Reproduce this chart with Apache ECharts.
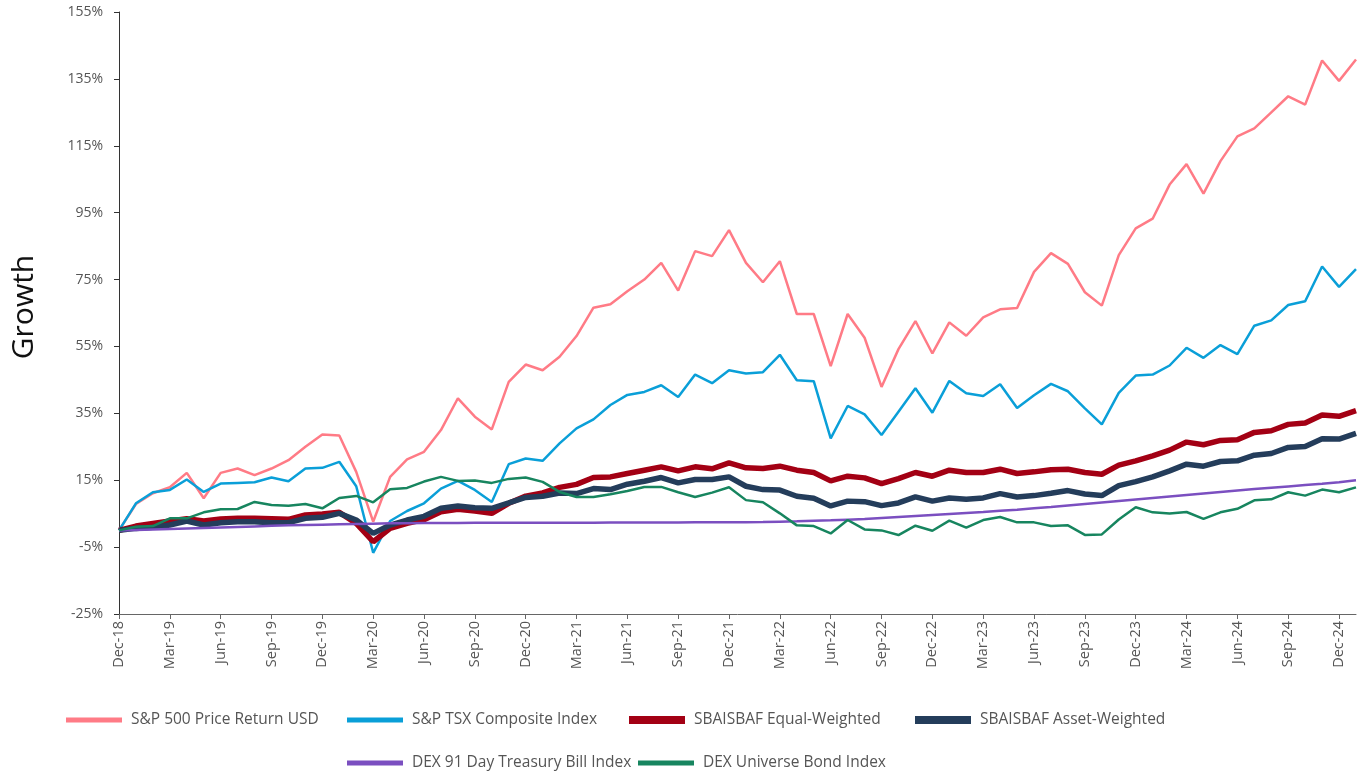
<!DOCTYPE html>
<html>
<head>
<meta charset="utf-8">
<script src="https://cdn.jsdelivr.net/npm/echarts@6/dist/echarts.min.js"></script>
<style>
html,body{margin:0;padding:0;background:#fff;}
#chart{width:1362px;height:775px;}
</style>
</head>
<body>
<div id="chart"></div>
<script>
const categories = ["Dec-18","Jan-19","Feb-19","Mar-19","Apr-19","May-19","Jun-19","Jul-19","Aug-19","Sep-19","Oct-19","Nov-19",
"Dec-19","Jan-20","Feb-20","Mar-20","Apr-20","May-20","Jun-20","Jul-20","Aug-20","Sep-20","Oct-20","Nov-20",
"Dec-20","Jan-21","Feb-21","Mar-21","Apr-21","May-21","Jun-21","Jul-21","Aug-21","Sep-21","Oct-21","Nov-21",
"Dec-21","Jan-22","Feb-22","Mar-22","Apr-22","May-22","Jun-22","Jul-22","Aug-22","Sep-22","Oct-22","Nov-22",
"Dec-22","Jan-23","Feb-23","Mar-23","Apr-23","May-23","Jun-23","Jul-23","Aug-23","Sep-23","Oct-23","Nov-23",
"Dec-23","Jan-24","Feb-24","Mar-24","Apr-24","May-24","Jun-24","Jul-24","Aug-24","Sep-24","Oct-24","Nov-24",
"Dec-24","Jan-25"];

const sp500 = [0,7.9,11.1,12.9,17.2,9.6,17.2,18.5,16.5,18.5,21,25,
28.7,28.4,17.5,2.6,16,21.2,23.5,30,39.5,34,30.2,44.4,
49.6,47.9,51.9,58.1,66.6,67.6,71.5,75,80,71.7,83.5,82,
89.8,80,74.2,80.5,64.7,64.7,49.1,64.7,57.6,42.9,54.2,62.6,
52.9,62.2,58.2,63.7,66.1,66.5,77.3,82.9,79.7,71.2,67.2,82.3,
90.3,93.2,103.4,109.5,100.7,110.4,117.8,120.2,125,129.8,127.3,140.5,
134.4,140.8];

const tsx = [0,8.1,11.4,12.1,15.2,11.5,14,14.2,14.4,15.8,14.7,18.5,
18.7,20.5,13.2,-6.7,2.8,5.8,8.1,12.5,14.8,12.1,8.5,19.8,
21.5,20.8,26,30.5,33.2,37.5,40.5,41.4,43.4,39.9,46.6,44,
47.9,46.9,47.3,52.5,44.9,44.6,27.5,37.2,34.7,28.5,35.5,42.5,
35.2,44.7,41,40.2,43.7,36.6,40.4,43.8,41.6,36.5,31.7,41.1,
46.3,46.6,49.3,54.6,51.6,55.4,52.7,61.2,62.8,67.4,68.5,78.9,
72.8,78.1];

const equalWeighted = [0,1.3,2.1,2.8,3.5,2.8,3.4,3.6,3.6,3.5,3.3,4.6,
4.9,5.4,2.1,-3.4,0.6,2.1,3.2,5.6,6.3,5.8,5.1,8.1,
10.25,11.2,12.85,13.75,15.8,16,17,18,19,17.8,19,18.4,
20.2,18.7,18.5,19.2,18,17.3,14.8,16.2,15.7,14,15.5,17.3,
16.2,18,17.3,17.3,18.3,17,17.5,18.1,18.3,17.3,16.8,19.5,
20.8,22.3,24,26.4,25.6,26.9,27.1,29.3,29.8,31.7,32.1,34.5,
34.1,35.8];

const assetWeighted = [0,0.6,0.9,1.6,2.8,1.6,2.3,2.6,2.6,2.3,2.3,3.6,
3.9,5.1,3.1,-0.9,1.6,3.1,4.2,6.6,7.3,6.8,6.6,8.2,
9.85,10.2,11.2,11,12.5,12.2,13.8,14.7,15.8,14.2,15.2,15.2,
16,13.2,12.2,12.05,10.2,9.6,7.3,8.75,8.6,7.4,8.2,10,
8.75,9.7,9.3,9.7,11,10,10.4,11.1,11.9,10.9,10.4,13.4,
14.6,16,17.8,19.8,19.2,20.6,20.8,22.5,23,24.8,25.1,27.4,
27.3,29];

const tbill = [0,0.15,0.3,0.45,0.6,0.75,0.9,1.05,1.2,1.35,1.5,1.6,
1.7,1.8,1.9,2.0,2.1,2.1,2.2,2.2,2.2,2.25,2.25,2.3,
2.3,2.3,2.3,2.3,2.3,2.35,2.35,2.35,2.35,2.35,2.4,2.4,
2.4,2.45,2.5,2.6,2.7,2.85,3.0,3.2,3.4,3.7,4.0,4.3,
4.6,4.9,5.2,5.5,5.85,6.2,6.6,7.0,7.45,7.9,8.35,8.8,
9.25,9.7,10.15,10.6,11.05,11.5,11.95,12.35,12.75,13.15,13.55,13.95,
14.4,15.0];

const bond = [0,1.1,1.3,3.6,3.6,5.4,6.3,6.4,8.5,7.6,7.4,7.9,
6.6,9.7,10.3,8.4,12.3,12.7,14.6,16,14.8,14.9,14.2,15.4,
15.8,14.5,11.5,10,10,10.8,11.8,13,13,11.4,10,11.3,
12.9,9.05,8.4,5.1,1.5,1.3,-0.9,3.1,0.3,0,-1.4,1.4,
-0.1,2.9,0.8,3.1,4,2.4,2.4,1.3,1.5,-1.35,-1.2,3.25,
6.9,5.4,5.05,5.5,3.46,5.4,6.45,9,9.3,11.4,10.4,12.2,
11.4,12.85];

const yTicks = [-25,-5,15,35,55,75,95,115,135,155];

const seriesNames = ["S&P 500 Price Return USD","S&P TSX Composite Index","SBAISBAF Equal-Weighted",
"SBAISBAF Asset-Weighted","DEX 91 Day Treasury Bill Index","DEX Universe Bond Index"];
const seriesData = [sp500, tsx, equalWeighted, assetWeighted, tbill, bond];
const colors = ["#ff7b86","#0a9fd8","#a30014","#243d5b","#7b4fc0","#17855f"];
const widths = [2.5,2.5,5.5,5.5,2.5,2.5];

const legendPos = [[66,712],[347,712],[629,712],[915,712],[347,755],[638,755]];
const legendH = [5,5,8,8,5,5];

const chart = echarts.init(document.getElementById('chart'), null, {renderer:'canvas'});
const option = {
  animation:false,
  backgroundColor:'#ffffff',
  color: colors,
  grid:{left:119,right:6,top:12,bottom:161,containLabel:false,outerBoundsMode:'none'},
  legend: seriesNames.map((n,i)=>({
    data:[n], left:legendPos[i][0], top:legendPos[i][1],
    icon:'rect', itemWidth:56, itemHeight:legendH[i], padding:0,
    textStyle:{fontFamily:'Open Sans', fontSize:15.5, color:'#555', padding:[0,0,0,4]}
  })),
  xAxis:{
    type:'category', data:categories, boundaryGap:false,
    axisLine:{onZero:false, lineStyle:{color:'#666',width:1}},
    axisTick:{show:true, interval:2, length:5, lineStyle:{color:'#666'}},
    axisLabel:{interval:2, rotate:90, fontFamily:'Open Sans', fontSize:14.5, color:'#555', margin:7},
    splitLine:{show:false}
  },
  yAxis:{
    type:'value', min:-25, max:155,
    name:'Growth', nameLocation:'middle', nameGap:80, nameRotate:90,
    nameTextStyle:{fontFamily:'Open Sans', fontSize:30, color:'#111', padding:[0,0,0,12]},
    axisLine:{show:true, lineStyle:{color:'#333',width:1}},
    axisTick:{show:true, length:5, lineStyle:{color:'#333'}, customValues:yTicks},
    axisLabel:{customValues:yTicks, formatter:v=>v+'%', fontFamily:'Open Sans', fontSize:14, color:'#555', margin:16},
    splitLine:{show:false}
  },
  series: seriesNames.map((n,i)=>({
    name:n, type:'line', data:seriesData[i], showSymbol:false, symbol:'none',
    lineStyle:{width:widths[i], color:colors[i]}, itemStyle:{color:colors[i]},
    z: 2+i
  }))
};
chart.setOption(option);
</script>
</body>
</html>
